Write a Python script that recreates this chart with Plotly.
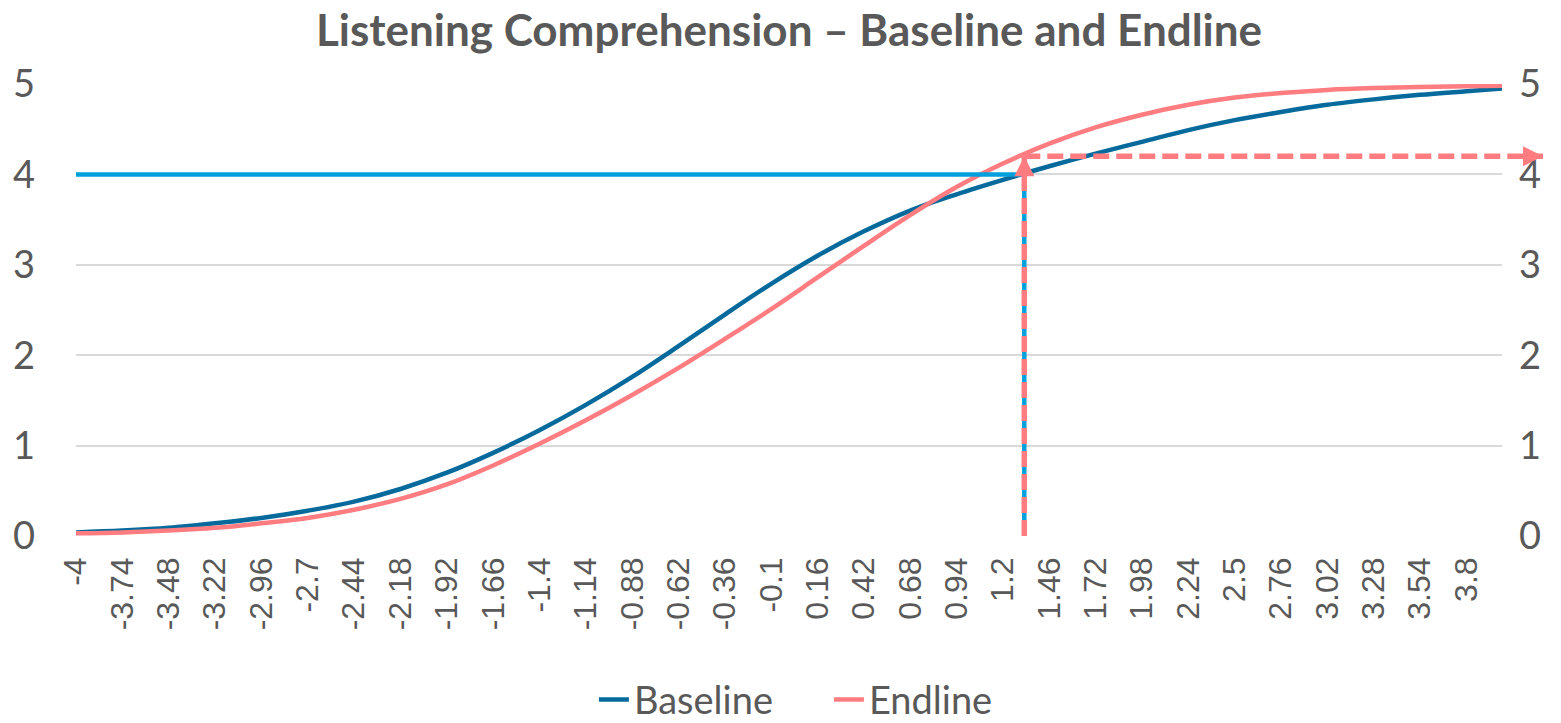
import plotly.graph_objects as go

# Test characteristic curves: expected score (0-5) against ability (theta)
theta_labels = ["-4", "-3.74", "-3.48", "-3.22", "-2.96", "-2.7", "-2.44", "-2.18",
                "-1.92", "-1.66", "-1.4", "-1.14", "-0.88", "-0.62", "-0.36", "-0.1",
                "0.16", "0.42", "0.68", "0.94", "1.2", "1.46", "1.72", "1.98", "2.24",
                "2.5", "2.76", "3.02", "3.28", "3.54", "3.8"]
theta = [float(t) for t in theta_labels] + [4.0]

baseline = [0.04, 0.06, 0.09, 0.14, 0.20, 0.28, 0.38, 0.52, 0.70, 0.92, 1.17, 1.45,
            1.76, 2.10, 2.45, 2.79, 3.10, 3.37, 3.60, 3.78, 3.94, 4.09, 4.23, 4.36,
            4.49, 4.60, 4.69, 4.77, 4.83, 4.88, 4.92, 4.95]
endline = [0.03, 0.04, 0.06, 0.09, 0.14, 0.20, 0.29, 0.41, 0.57, 0.78, 1.02, 1.28,
           1.56, 1.86, 2.18, 2.51, 2.86, 3.21, 3.55, 3.86, 4.12, 4.34, 4.52, 4.66,
           4.77, 4.85, 4.90, 4.935, 4.955, 4.967, 4.975, 4.98]

# Cut score read across to the baseline curve, then up to the endline curve
cut_score = 4.0
theta_at_cut = 1.32
endline_at_cut = 4.2
arrow_reach = 4.23          # horizontal projection runs just past the plot edge

X_MIN, X_MAX = -4.0, 4.0
Y_MIN, Y_MAX = 0.0, 5.0

BLUE_DARK = "#066A9C"
PINK = "#FF7C80"
BLUE_LIGHT = "#00A0DC"
GREY_TEXT = "#595959"
GRID = "#D9D9D9"


def px(v):
    return (v - X_MIN) / (X_MAX - X_MIN)


def py(v):
    return (v - Y_MIN) / (Y_MAX - Y_MIN)


fig = go.Figure()
fig.add_trace(go.Scatter(x=theta, y=baseline, name="Baseline", mode="lines",
                         line=dict(color=BLUE_DARK, width=4.5, shape="spline", smoothing=1)))
fig.add_trace(go.Scatter(x=theta, y=endline, name="Endline", mode="lines",
                         line=dict(color=PINK, width=4.5, shape="spline", smoothing=1)))
# carrier for the right-hand axis
fig.add_trace(go.Scatter(x=theta, y=endline, yaxis="y2", mode="lines", showlegend=False,
                         hoverinfo="skip", opacity=0, line=dict(width=0)))

shapes = [
    dict(type="line", xref="x", yref="y", x0=X_MIN, x1=theta_at_cut, y0=cut_score, y1=cut_score,
         line=dict(color=BLUE_LIGHT, width=4.5)),
    dict(type="line", xref="x", yref="y", x0=theta_at_cut, x1=theta_at_cut, y0=Y_MIN, y1=cut_score,
         line=dict(color=BLUE_LIGHT, width=4.5)),
    dict(type="line", xref="x", yref="y", x0=theta_at_cut, x1=theta_at_cut, y0=Y_MIN, y1=endline_at_cut,
         line=dict(color=PINK, width=5.5, dash="16px,7px")),
    dict(type="line", xref="paper", yref="paper", x0=px(theta_at_cut), x1=px(arrow_reach),
         y0=py(endline_at_cut), y1=py(endline_at_cut),
         line=dict(color=PINK, width=5.5, dash="16px,7px")),
]

annotations = [
    dict(x=px(arrow_reach), y=py(endline_at_cut), xref="paper", yref="paper",
         ax=-12, ay=0, text="", showarrow=True, arrowhead=2, arrowsize=0.8,
         arrowwidth=5, arrowcolor=PINK),
    dict(x=theta_at_cut, y=endline_at_cut, xref="x", yref="y",
         ax=0, ay=12, text="", showarrow=True, arrowhead=2, arrowsize=0.8,
         arrowwidth=5, arrowcolor=PINK),
]

ytick_font = dict(family="Lato", size=38, color=GREY_TEXT)

fig.update_layout(
    width=1561, height=723,
    margin=dict(l=76, r=59, t=84, b=187),
    paper_bgcolor="white", plot_bgcolor="white",
    title=dict(text="Listening Comprehension – Baseline and Endline",
               x=0.5, xref="paper", y=0.957, yanchor="middle",
               font=dict(family="Lato", size=44, weight="bold", color=GREY_TEXT)),
    xaxis=dict(range=[X_MIN, X_MAX], tickmode="array", tickvals=theta[:-1], ticktext=theta_labels,
               tickangle=-90, showgrid=False, zeroline=False, showline=False, ticks="",
               tickfont=dict(family="Liberation Sans", size=32, color=GREY_TEXT),
               ticklabelstandoff=14, automargin=False),
    yaxis=dict(range=[Y_MIN, Y_MAX], tickvals=[0, 1, 2, 3, 4, 5], showgrid=True,
               gridcolor=GRID, gridwidth=1.5, zeroline=False, showline=False, ticks="",
               tickfont=ytick_font, ticklabelstandoff=40, automargin=False),
    yaxis2=dict(range=[Y_MIN, Y_MAX], tickvals=[0, 1, 2, 3, 4, 5], overlaying="y", side="right",
                showgrid=False, zeroline=False, showline=False, ticks="",
                tickfont=ytick_font, ticklabelstandoff=16, automargin=False),
    legend=dict(orientation="h", x=0.528, xanchor="center", y=0.032, yref="container",
                yanchor="middle", entrywidth=190,
                font=dict(family="Lato", size=38, color=GREY_TEXT), bgcolor="rgba(0,0,0,0)"),
    shapes=shapes,
    annotations=annotations,
    showlegend=True,
)

fig.write_html("out.html")
